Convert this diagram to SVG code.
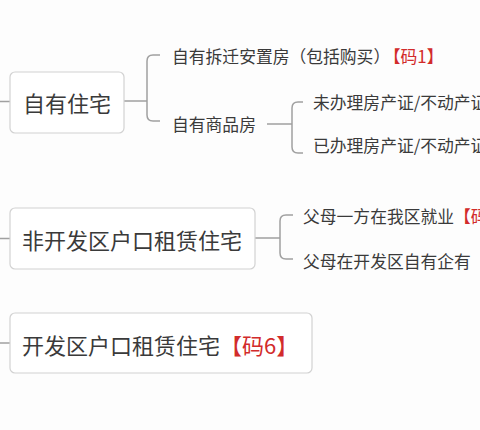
<svg xmlns="http://www.w3.org/2000/svg" width="480" height="430" viewBox="0 0 480 430">
<style>
.bg{fill:#fdfdfd}
.box{fill:#fff;stroke:#d2d2d2;stroke-width:1.2}
.ln{fill:none;stroke:#a0a0a0;stroke-width:1.5}
.t{font-family:"Noto Sans CJK SC","Noto Sans",sans-serif;fill:#3a3a3a}
.big{font-size:22px}
.sm{font-size:16.8px}
.red{fill:#d22b2b}
</style>
<rect class="bg" x="0" y="0" width="480" height="430"/>
<g id="connectors">
<path class="ln" d="M0 101.5H10M0 238.5H10M0 343H10"/>
<path class="ln" d="M124 101H147M160 55H153Q147 55 147 61V115Q147 121 153 121H160"/>
<path class="ln" d="M267 124H292M303 102H298Q292 102 292 108V147Q292 153 298 153H303"/>
<path class="ln" d="M255 238H280M293 215H286Q280 215 280 221V253Q280 259 286 259H293"/>
</g>
<g id="n1">
<rect class="box" x="10" y="72" width="114" height="61" rx="5"/>
<text class="t big" x="23" y="111.5">自有住宅</text>
</g>
<g id="n2">
<rect class="box" x="10" y="208" width="245" height="61" rx="5"/>
<text class="t big" x="22" y="248.5">非开发区户口租赁住宅</text>
</g>
<g id="n3">
<rect class="box" x="10" y="313" width="302" height="60" rx="5"/>
<text class="t big" x="22" y="354">开发区户口租赁住宅<tspan class="red">【码6】</tspan></text>
</g>
<g id="n1a"><text class="t sm" x="172" y="63">自有拆迁安置房（包括购买）<tspan class="red" dx="2">【码1】</tspan></text></g>
<g id="n1b"><text class="t sm" x="172" y="131">自有商品房</text></g>
<g id="n1b1"><text class="t sm" x="313" y="109">未办理房产证/不动产证</text></g>
<g id="n1b2"><text class="t sm" x="313" y="152">已办理房产证/不动产证</text></g>
<g id="n2a"><text class="t sm" x="303" y="223">父母一方在我区就业<tspan class="red">【码</tspan></text></g>
<g id="n2b"><text class="t sm" x="303" y="268">父母在开发区自有企有</text></g>
</svg>
